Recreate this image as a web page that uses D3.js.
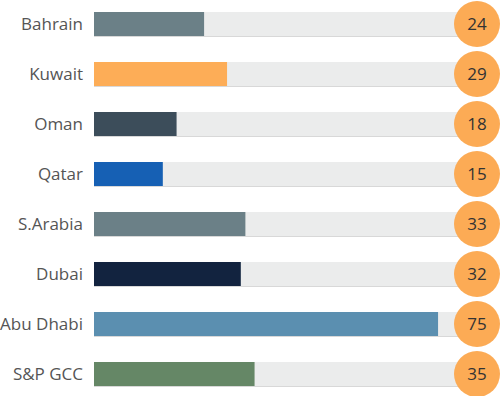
<!DOCTYPE html>
<html>
<head>
<meta charset="utf-8">
<script src="https://cdn.jsdelivr.net/npm/d3@7"></script>
<style>
  body { margin: 0; background: #fff; }
  text { font-family: "Open Sans", sans-serif; }
</style>
</head>
<body>
<script>
var width = 500;
var height = 396;

// data
var categories = ["Bahrain", "Kuwait", "Oman", "Qatar", "S.Arabia", "Dubai", "Abu Dhabi", "S&P GCC"];
var values = [24, 29, 18, 15, 33, 32, 75, 35];
var barColors = ["#6b8087", "#fdad57", "#3c4d5a", "#1660b4", "#6b8087", "#12233f", "#5b8fb0", "#658766"];

var data = categories.map(function(c, i) {
  return {name: c, value: values[i], color: barColors[i]};
});

var svg = d3.select("body")
    .append("svg")
    .attr("width", width)
    .attr("height", height);

var xScale = d3.scaleLinear()
  .domain([0, 80])
  .range([94, 461]);

var yScale = d3.scaleBand()
  .domain(categories)
  .range([-1, 399])
  .paddingInner(0.52)
  .paddingOuter(0.26);

var barH = 24;
var circleX = 477;

var rows = svg.selectAll("g.row")
  .data(data)
  .enter()
  .append("g")
    .attr("class", "row")
    .attr("transform", function(d) {
      return "translate(0," + (yScale(d.name) + yScale.bandwidth() / 2) + ")";
    });

// background track
rows.append("rect")
  .attr("x", xScale(0))
  .attr("y", -barH / 2)
  .attr("width", circleX - xScale(0))
  .attr("height", barH)
  .attr("fill", "#ebecec");

rows.append("line")
  .attr("x1", xScale(0))
  .attr("x2", circleX)
  .attr("y1", barH / 2 + 0.5)
  .attr("y2", barH / 2 + 0.5)
  .attr("stroke", "#d8d8d8");

rows.append("rect")
  .attr("x", xScale(0))
  .attr("y", -barH / 2)
  .attr("width", function(d) { return xScale(d.value) - xScale(0); })
  .attr("height", barH)
  .attr("fill", function(d) { return d.color; });

rows.append("text")
  .attr("x", 83)
  .attr("y", 0)
  .attr("dy", "0.35em")
  .attr("text-anchor", "end")
  .attr("font-size", 17)
  .attr("fill", "#555")
  .text(function(d) { return d.name; });

rows.append("circle")
  .attr("cx", circleX)
  .attr("cy", 0)
  .attr("r", 23)
  .attr("fill", "#fcab55");

rows.append("text")
  .attr("x", circleX)
  .attr("y", 0)
  .attr("dy", "0.36em")
  .attr("text-anchor", "middle")
  .attr("font-size", 17)
  .attr("fill", "#333")
  .text(function(d) { return d.value; });
</script>
</body>
</html>
